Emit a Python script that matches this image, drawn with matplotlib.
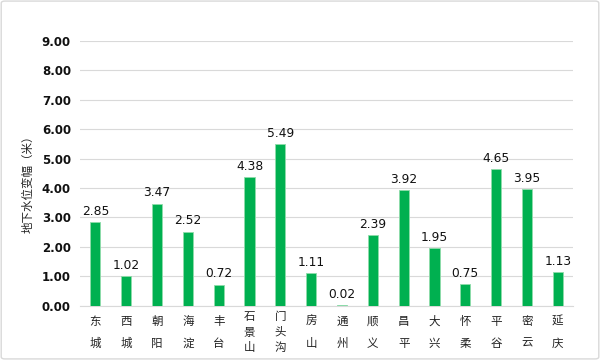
import matplotlib
matplotlib.use("Agg")
import matplotlib.pyplot as plt
from matplotlib.patches import FancyBboxPatch

plt.rcParams['font.family'] = ['Noto Sans CJK SC', 'DejaVu Sans']

districts = ["东城", "西城", "朝阳", "海淀", "丰台", "石景山", "门头沟", "房山", "通州",
             "顺义", "昌平", "大兴", "怀柔", "平谷", "密云", "延庆"]
values = [2.85, 1.02, 3.47, 2.52, 0.72, 4.38, 5.49, 1.11, 0.02,
          2.39, 3.92, 1.95, 0.75, 4.65, 3.95, 1.13]
yticks = [0, 1, 2, 3, 4, 5, 6, 7, 8, 9]

fig = plt.figure(figsize=(6, 3.6), dpi=100)
ax = fig.add_axes([0.1333, 0.1508, 0.822, 0.736])

x = list(range(len(districts)))
ax.bar(x, values, width=0.33, color="#00B050", edgecolor="#8fdcaa", linewidth=0.6, zorder=3)
for xi, v in zip(x, values):
    ax.text(xi, v + 0.14, f"{v:.2f}", ha="center", va="bottom", fontsize=8.8,
            family="DejaVu Sans", color="#111111")

ax.set_ylim(0, 9)
ax.set_xlim(-0.5, len(districts) - 0.5)
ax.set_yticks(yticks)
ax.set_yticklabels([f"{t:.2f}" for t in yticks], fontsize=8.5, fontweight="bold",
                   family="DejaVu Sans", color="#111111")
ax.set_xticks(x)
ax.set_xticklabels(["\n".join(d) for d in districts], fontsize=8.3, va="center",
                   color="#222222")
for lab, d in zip(ax.get_xticklabels(), districts):
    lab.set_linespacing(1.9 if len(d) == 2 else 1.22)
ax.tick_params(axis="y", length=0, pad=6.5)
ax.tick_params(axis="x", length=0, pad=19)
ax.grid(axis="y", color="#d9d9d9", linewidth=0.8, zorder=0)
for s in ["top", "right", "left"]:
    ax.spines[s].set_visible(False)
ax.spines["bottom"].set_color("#d9d9d9")
ax.set_ylabel("地下水位变幅（米）", fontsize=8.3, color="#222222")
ax.yaxis.set_label_coords(-0.093, 0.47)

border = FancyBboxPatch((0.002, 0.003), 0.996, 0.994, boxstyle="round,pad=0,rounding_size=0.006",
                        transform=fig.transFigure, fill=False, edgecolor="#d9d9d9", linewidth=1)
fig.patches.append(border)

fig.savefig("out.png", dpi=100)
